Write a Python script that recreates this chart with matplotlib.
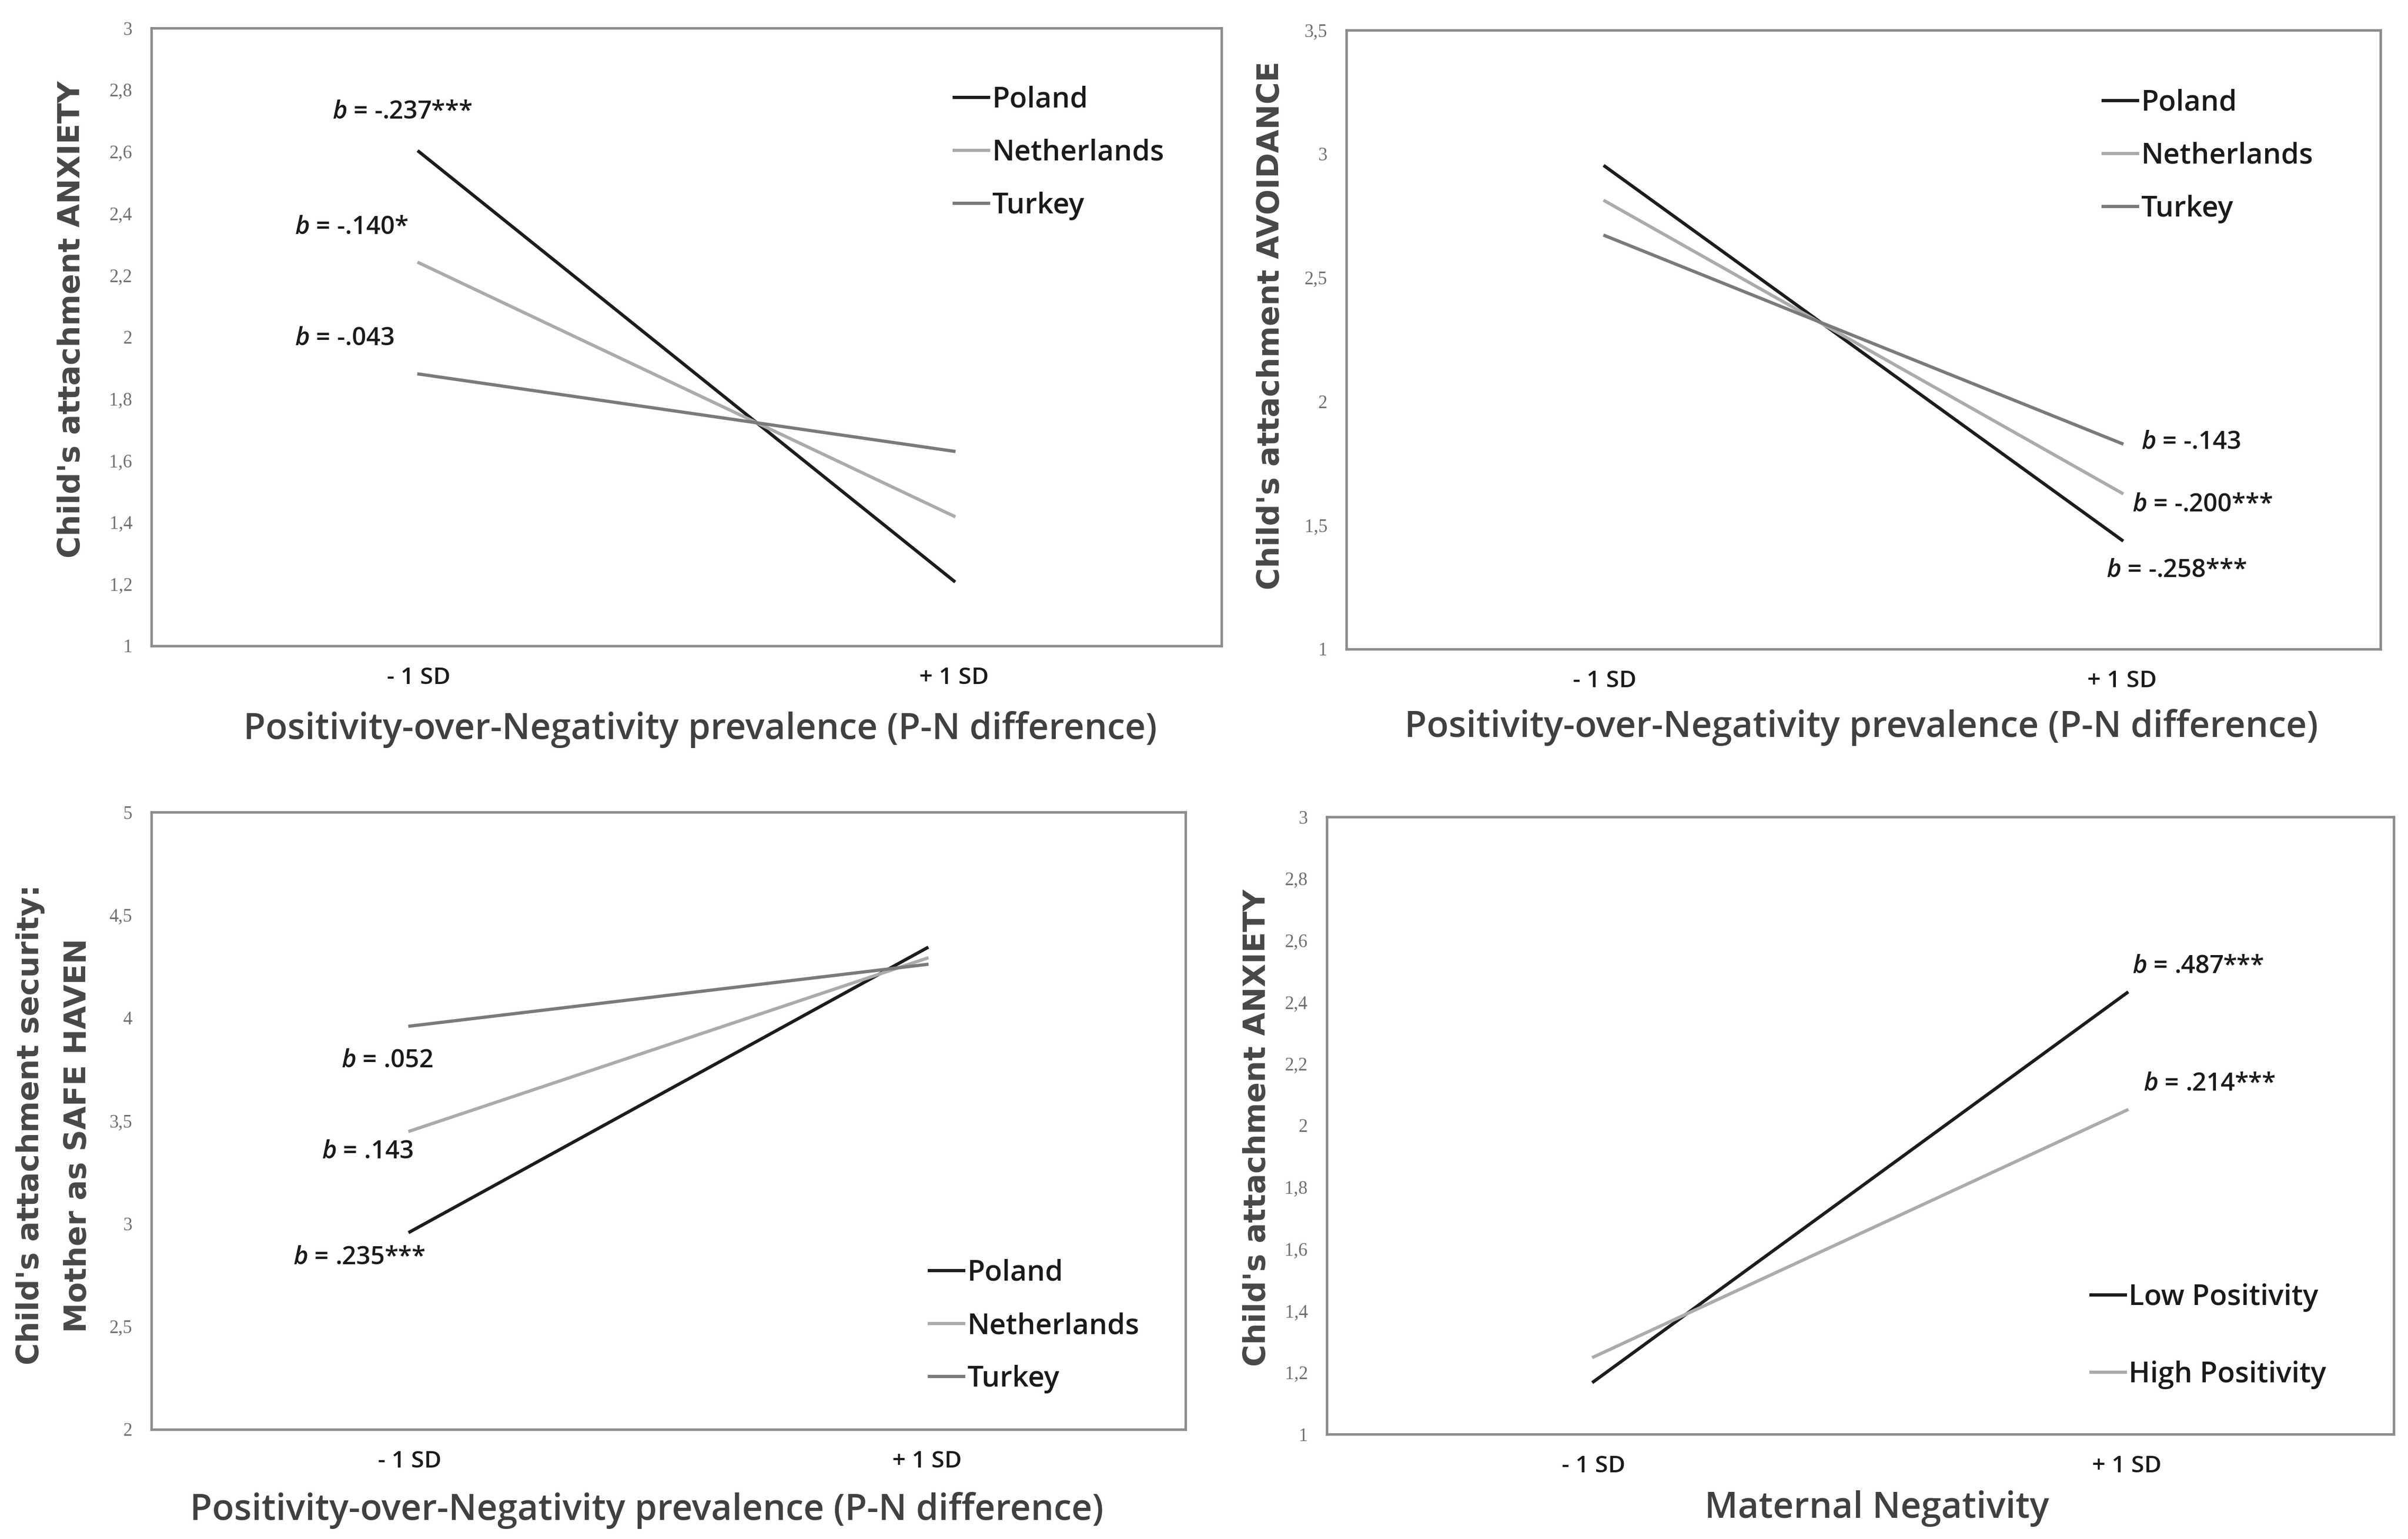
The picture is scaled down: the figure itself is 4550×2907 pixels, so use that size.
import matplotlib
matplotlib.use("Agg")
import matplotlib.pyplot as plt
from matplotlib.lines import Line2D

# ---------------- data ----------------
x_labels = ["- 1 SD", "+ 1 SD"]
countries = ["Poland", "Netherlands", "Turkey"]

anxiety_poland = [2.60, 1.21]
anxiety_netherlands = [2.24, 1.42]
anxiety_turkey = [1.88, 1.63]

avoid_poland = [2.95, 1.44]
avoid_netherlands = [2.81, 1.63]
avoid_turkey = [2.67, 1.83]

haven_poland = [2.96, 4.34]
haven_netherlands = [3.45, 4.29]
haven_turkey = [3.96, 4.26]

positivity_groups = ["Low Positivity", "High Positivity"]
neg_low_positivity = [1.17, 2.43]
neg_high_positivity = [1.25, 2.05]

yticks_anx = [1.0, 1.2, 1.4, 1.6, 1.8, 2.0, 2.2, 2.4, 2.6, 2.8, 3.0]
ylabels_anx = ["1", "1,2", "1,4", "1,6", "1,8", "2", "2,2", "2,4", "2,6", "2,8", "3"]
yticks_avo = [1.0, 1.5, 2.0, 2.5, 3.0, 3.5]
ylabels_avo = ["1", "1,5", "2", "2,5", "3", "3,5"]
yticks_sh = [2.0, 2.5, 3.0, 3.5, 4.0, 4.5, 5.0]
ylabels_sh = ["2", "2,5", "3", "3,5", "4", "4,5", "5"]

ann_p1 = ["-.237***", "-.140*", "-.043"]
ann_p2 = ["-.143", "-.200***", "-.258***"]
ann_p3 = [".052", ".143", ".235***"]
ann_p4 = [".487***", ".214***"]

xlabel_pn = "Positivity-over-Negativity prevalence (P-N difference)"
xlabel_neg = "Maternal Negativity"

# ---------------- style ----------------
plt.rcParams["mathtext.fontset"] = "custom"
plt.rcParams["mathtext.it"] = "Open Sans:italic:semibold"
plt.rcParams["mathtext.rm"] = "Open Sans"

W, H = 4550, 2907
fig = plt.figure(figsize=(W / 100, H / 100), dpi=100)
fig.patch.set_facecolor("white")


def fx(px):
    return px / W


def fy(py):
    return 1 - py / H


C_POL = "#1c1c1c"
C_NL = "#ababab"
C_TR = "#7a7a7a"
C_SPINE = "#8c8c8c"
LW = 4.4
SANS = "Open Sans"


def make_ax(l, t, r, b):
    ax = fig.add_axes([fx(l), fy(b), fx(r) - fx(l), (b - t) / H])
    for s in ax.spines.values():
        s.set_color(C_SPINE)
        s.set_linewidth(3.4)
    ax.set_xlim(-0.5, 1.5)
    ax.set_xticks([0, 1])
    ax.set_xticklabels(x_labels, fontsize=32, family=SANS, weight="semibold",
                       color="#1a1a1a")
    ax.tick_params(axis="x", length=0, pad=28)
    ax.tick_params(axis="y", length=0, pad=26)
    return ax


def set_y(ax, ticks, labels):
    ax.set_ylim(ticks[0], ticks[-1])
    ax.set_yticks(ticks)
    ax.set_yticklabels(labels, fontsize=25, family="Liberation Serif", color="#6e6e6e")


def legend(ax, labels, colors, x, y, spacing):
    handles = [Line2D([0], [0], color=c, lw=LW) for c in colors]
    ax.legend(handles, labels, loc="center left", bbox_to_anchor=(fx(x), fy(y)),
              bbox_transform=fig.transFigure, frameon=False, borderpad=0,
              borderaxespad=0, handlelength=1.2, handletextpad=0.12,
              labelspacing=spacing,
              prop={"family": SANS, "size": 39, "weight": "semibold"})
    for t in ax.get_legend().get_texts():
        t.set_color("#1a1a1a")


def ann(text, x, y):
    fig.text(fx(x), fy(y), "$b$ = " + text, ha="left", va="center",
             fontsize=34, family=SANS, weight="semibold", color="#1a1a1a")


def ylab(text, x, y):
    fig.text(fx(x), fy(y), text, rotation=90, ha="center", va="center",
             fontsize=41, family="DejaVu Sans", weight="bold", color="#474747")


def xlab(text, x, y):
    fig.text(fx(x), fy(y), text, ha="center", va="center",
             fontsize=49, family=SANS, weight="semibold", color="#404040")


xs = [0, 1]

# ---------------- panel 1 ----------------
ax1 = make_ax(286, 53, 2308, 1220)
set_y(ax1, yticks_anx, ylabels_anx)
ax1.plot(xs, anxiety_poland, color=C_POL, lw=LW)
ax1.plot(xs, anxiety_netherlands, color=C_NL, lw=LW)
ax1.plot(xs, anxiety_turkey, color=C_TR, lw=LW)
legend(ax1, countries, [C_POL, C_NL, C_TR], 1803, 289, 0.85)
ann(ann_p1[0], 628, 211)
ann(ann_p1[1], 557, 430)
ann(ann_p1[2], 557, 640)
ylab("Child's attachment ANXIETY", 136, 603)
xlab(xlabel_pn, 1323, 1378)

# ---------------- panel 2 ----------------
ax2 = make_ax(2544, 57, 4498, 1226)
set_y(ax2, yticks_avo, ylabels_avo)
ax2.plot(xs, avoid_poland, color=C_POL, lw=LW)
ax2.plot(xs, avoid_netherlands, color=C_NL, lw=LW)
ax2.plot(xs, avoid_turkey, color=C_TR, lw=LW)
legend(ax2, countries, [C_POL, C_NL, C_TR], 3974, 295, 0.85)
ann(ann_p2[0], 4046, 835)
ann(ann_p2[1], 4029, 953)
ann(ann_p2[2], 3980, 1078)
ylab("Child's attachment AVOIDANCE", 2401, 615)
xlab(xlabel_pn, 3517, 1374)

# ---------------- panel 3 ----------------
ax3 = make_ax(286, 1534, 2240, 2700)
set_y(ax3, yticks_sh, ylabels_sh)
ax3.plot(xs, haven_poland, color=C_POL, lw=LW)
ax3.plot(xs, haven_netherlands, color=C_NL, lw=LW)
ax3.plot(xs, haven_turkey, color=C_TR, lw=LW)
legend(ax3, countries, [C_POL, C_NL, C_TR], 1756, 2505, 0.85)
ann(ann_p3[0], 645, 2003)
ann(ann_p3[1], 608, 2175)
ann(ann_p3[2], 554, 2375)
ylab("Child's attachment security:", 58, 2124)
ylab("Mother as SAFE HAVEN", 148, 2145)
xlab(xlabel_pn, 1222, 2853)

# ---------------- panel 4 ----------------
ax4 = make_ax(2507, 1543, 4523, 2709)
set_y(ax4, yticks_anx, ylabels_anx)
ax4.plot(xs, neg_low_positivity, color=C_POL, lw=LW)
ax4.plot(xs, neg_high_positivity, color=C_NL, lw=LW)
legend(ax4, positivity_groups, [C_POL, C_NL], 3951, 2524, 1.7)
ann(ann_p4[0], 4029, 1826)
ann(ann_p4[1], 4050, 2048)
ylab("Child's attachment ANXIETY", 2375, 2130)
xlab(xlabel_neg, 3546, 2849)

fig.savefig("out.png", dpi=100, facecolor="white")
